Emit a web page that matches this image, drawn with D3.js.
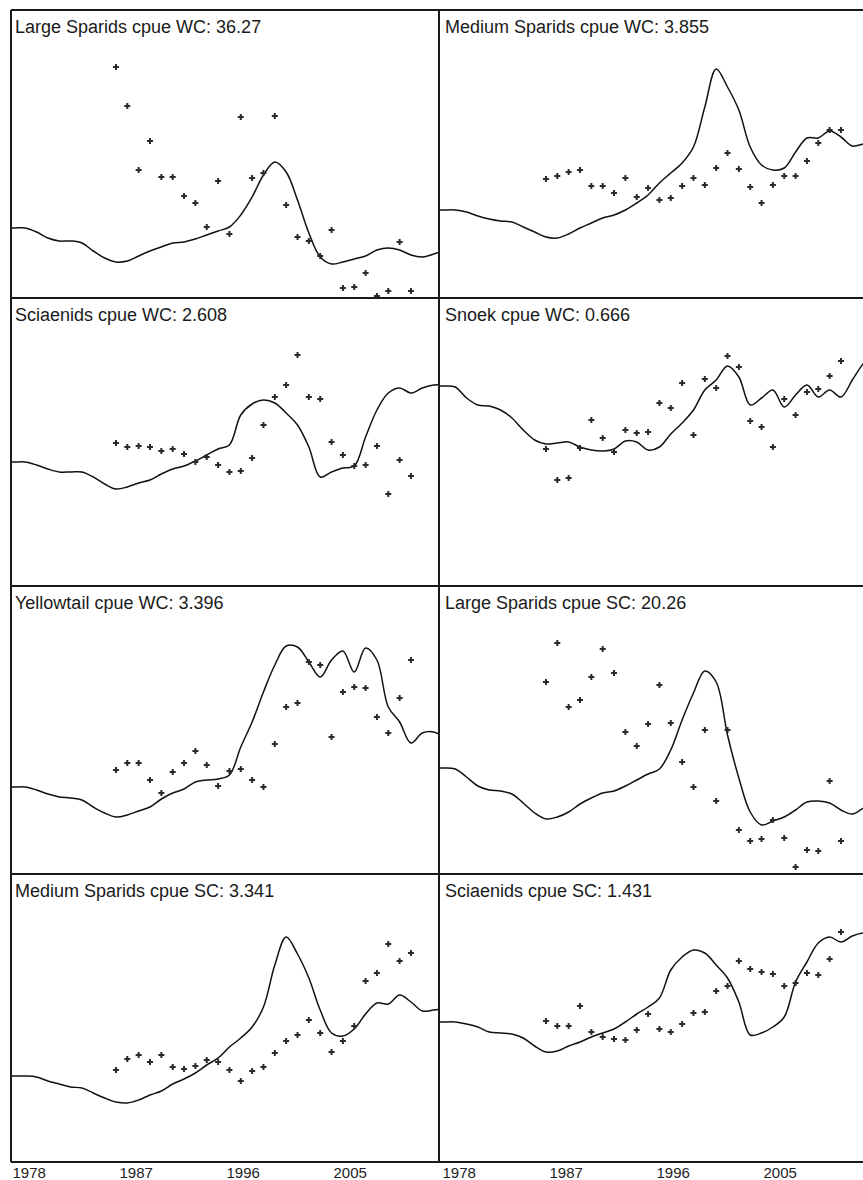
<!DOCTYPE html>
<html>
<head>
<meta charset="utf-8">
<script src="https://cdn.jsdelivr.net/npm/d3@7"></script>
<style>
  body { margin: 0; background: #fff; }
  svg { display: block; }
</style>
</head>
<body>
<div id="chart"></div>
<script>
// years of the observed cpue points and of the fitted curve
const pointYears = d3.range(1987, 2014);
const fitYears = d3.range(1977, 2017);
const tickLabels = ["1978", "1987", "1996", "2005"];

const titles = [
    "Large Sparids cpue WC: 36.27",
    "Medium Sparids cpue WC: 3.855",
    "Sciaenids cpue WC: 2.608",
    "Snoek cpue WC: 0.666",
    "Yellowtail cpue WC: 3.396",
    "Large Sparids cpue SC: 20.26",
    "Medium Sparids cpue SC: 3.341",
    "Sciaenids cpue SC: 1.431"
];

// relative cpue (observed) and model fit, one pair per panel
const largeSparidsWC = [2.30, 1.91, 1.27, 1.56, 1.20, 1.20, 1.01, 0.94, 0.70, 1.16, 0.63, 1.80, 1.19, 1.24,
    1.81, 0.92, 0.60, 0.56, 0.41, 0.67, 0.09, 0.10, 0.24, 0.01, 0.06, 0.55, 0.06];
const largeSparidsWCFit = [0.69, 0.69, 0.69, 0.65, 0.59, 0.56, 0.56, 0.54, 0.46, 0.39, 0.35, 0.36, 0.41, 0.46,
    0.50, 0.54, 0.55, 0.58, 0.62, 0.66, 0.70, 0.82, 1.00, 1.22, 1.35, 1.25, 0.97, 0.64, 0.40, 0.33,
    0.35, 0.38, 0.41, 0.47, 0.49, 0.47, 0.42, 0.40, 0.43, 0.47];

const mediumSparidsWC = [1.18, 1.21, 1.25, 1.27, 1.11, 1.11, 1.04, 1.19, 1.00, 1.09, 0.97, 0.99, 1.11, 1.19,
    1.12, 1.29, 1.44, 1.28, 1.10, 0.94, 1.12, 1.21, 1.21, 1.36, 1.54, 1.67, 1.67];
const mediumSparidsWCFit = [0.87, 0.87, 0.87, 0.85, 0.81, 0.78, 0.76, 0.75, 0.70, 0.65, 0.60, 0.59, 0.63, 0.69,
    0.74, 0.79, 0.82, 0.87, 0.94, 1.02, 1.14, 1.24, 1.34, 1.50, 1.90, 2.28, 2.10, 1.87, 1.50, 1.32,
    1.27, 1.29, 1.45, 1.59, 1.59, 1.66, 1.60, 1.51, 1.53, 1.54];

const sciaenidsWC = [1.42, 1.38, 1.39, 1.38, 1.34, 1.36, 1.31, 1.23, 1.28, 1.20, 1.13, 1.14, 1.27, 1.60,
    1.88, 2.00, 2.30, 1.88, 1.86, 1.43, 1.30, 1.19, 1.20, 1.39, 0.91, 1.25, 1.09];
const sciaenidsWCFit = [1.23, 1.23, 1.23, 1.20, 1.16, 1.13, 1.13, 1.13, 1.08, 1.01, 0.96, 0.98, 1.02, 1.05,
    1.11, 1.16, 1.19, 1.24, 1.30, 1.36, 1.40, 1.70, 1.81, 1.85, 1.82, 1.72, 1.60, 1.38, 1.08, 1.13,
    1.17, 1.19, 1.48, 1.75, 1.92, 1.97, 1.92, 1.97, 2.00, 2.00];

const snoekWC = [1.36, 1.05, 1.07, 1.37, 1.65, 1.47, 1.33, 1.55, 1.52, 1.53, 1.82, 1.77, 2.02, 1.50,
    2.06, 1.97, 2.29, 2.18, 1.64, 1.58, 1.38, 1.86, 1.70, 1.93, 1.96, 2.09, 2.24];
const snoekWCFit = [1.99, 1.99, 1.98, 1.87, 1.80, 1.79, 1.75, 1.67, 1.55, 1.45, 1.41, 1.42, 1.43, 1.38,
    1.35, 1.34, 1.36, 1.44, 1.43, 1.35, 1.38, 1.51, 1.62, 1.75, 1.95, 2.05, 2.19, 2.08, 1.80, 1.87,
    1.95, 1.78, 1.90, 2.00, 1.88, 1.95, 1.88, 2.05, 2.22, 2.33];

const yellowtailWC = [1.03, 1.10, 1.10, 0.93, 0.80, 1.01, 1.10, 1.22, 1.08, 0.87, 1.02, 1.04, 0.93, 0.86,
    1.29, 1.66, 1.70, 2.11, 2.08, 1.36, 1.81, 1.86, 1.85, 1.56, 1.40, 1.75, 2.13];
const yellowtailWCFit = [0.86, 0.86, 0.86, 0.83, 0.79, 0.76, 0.75, 0.73, 0.66, 0.60, 0.56, 0.58, 0.62, 0.66,
    0.74, 0.80, 0.84, 0.91, 0.93, 0.94, 0.98, 1.26, 1.51, 1.81, 2.08, 2.27, 2.26, 2.11, 1.96, 2.13,
    2.22, 2.01, 2.25, 2.13, 1.66, 1.51, 1.30, 1.40, 1.41, 1.35];

const largeSparidsSC = [1.91, 2.30, 1.66, 1.73, 1.96, 2.24, 2.00, 1.41, 1.27, 1.49, 1.88, 1.50, 1.11, 0.86,
    1.43, 0.72, 1.43, 0.43, 0.32, 0.34, 0.53, 0.35, 0.06, 0.23, 0.22, 0.92, 0.32];
const largeSparidsSCFit = [1.05, 1.05, 1.04, 0.96, 0.87, 0.83, 0.82, 0.79, 0.70, 0.60, 0.54, 0.56, 0.61, 0.69,
    0.75, 0.80, 0.82, 0.87, 0.93, 0.99, 1.04, 1.23, 1.53, 1.80, 2.02, 1.91, 1.38, 0.95, 0.61, 0.48,
    0.52, 0.56, 0.63, 0.71, 0.72, 0.70, 0.63, 0.59, 0.65, 0.70];

const mediumSparidsSC = [0.91, 1.02, 1.06, 0.99, 1.06, 0.94, 0.92, 0.95, 1.01, 0.99, 0.91, 0.80, 0.90, 0.94,
    1.08, 1.20, 1.26, 1.41, 1.28, 1.09, 1.20, 1.35, 1.80, 1.88, 2.17, 2.00, 2.08];
const mediumSparidsSCFit = [0.85, 0.85, 0.85, 0.84, 0.80, 0.77, 0.74, 0.73, 0.68, 0.63, 0.59, 0.58, 0.61, 0.66,
    0.70, 0.77, 0.82, 0.88, 0.96, 1.03, 1.14, 1.23, 1.34, 1.54, 1.96, 2.24, 2.07, 1.83, 1.51, 1.28,
    1.25, 1.32, 1.47, 1.58, 1.57, 1.66, 1.59, 1.50, 1.51, 1.52];

const sciaenidsSC = [1.40, 1.35, 1.35, 1.55, 1.29, 1.24, 1.22, 1.21, 1.31, 1.47, 1.32, 1.29, 1.37, 1.48,
    1.49, 1.70, 1.75, 2.00, 1.92, 1.89, 1.87, 1.75, 1.78, 1.88, 1.86, 2.02, 2.29];
const sciaenidsSCFit = [1.39, 1.39, 1.39, 1.37, 1.34, 1.29, 1.28, 1.27, 1.23, 1.15, 1.09, 1.10, 1.15, 1.19,
    1.24, 1.28, 1.32, 1.39, 1.47, 1.54, 1.63, 1.91, 2.04, 2.11, 2.08, 1.96, 1.83, 1.59, 1.26, 1.28,
    1.34, 1.44, 1.79, 1.99, 2.18, 2.24, 2.19, 2.25, 2.28, 2.28];

const panels = [
    { title: titles[0], obs: largeSparidsWC, fit: largeSparidsWCFit },
    { title: titles[1], obs: mediumSparidsWC, fit: mediumSparidsWCFit },
    { title: titles[2], obs: sciaenidsWC, fit: sciaenidsWCFit },
    { title: titles[3], obs: snoekWC, fit: snoekWCFit },
    { title: titles[4], obs: yellowtailWC, fit: yellowtailWCFit },
    { title: titles[5], obs: largeSparidsSC, fit: largeSparidsSCFit },
    { title: titles[6], obs: mediumSparidsSC, fit: mediumSparidsSCFit },
    { title: titles[7], obs: sciaenidsSC, fit: sciaenidsSCFit }
];

const width = 863, height = 1180;
const panelW = 428, panelH = 288, topY = 10;
const frameX = [11, 439];     // panel borders
const dataX = [11, 441];      // where each column's time axis starts

const svg = d3.select("#chart")
    .append("svg")
    .attr("width", width)
    .attr("height", height)
    .style("font-family", "'Liberation Sans', Arial, sans-serif");

const cross = d3.symbol().type(d3.symbolCross).size(20);

panels.forEach((p, i) => {
    const col = i % 2, row = Math.floor(i / 2);
    const y0 = topY + row * panelH;

    const x = d3.scaleLinear()
        .domain([1977.75, 2015.47])
        .range([dataX[col], dataX[col] + panelW]);
    const y = d3.scaleLinear()
        .domain([0, 2.88])
        .range([y0 + panelH - 1, y0 - 1]);

    svg.append("clipPath")
        .attr("id", "clip" + i)
        .append("rect")
        .attr("x", frameX[col])
        .attr("y", y0)
        .attr("width", panelW)
        .attr("height", panelH);

    const g = svg.append("g").attr("clip-path", `url(#clip${i})`);

    const line = d3.line()
        .x(d => x(d[0]))
        .y(d => y(d[1]))
        .curve(d3.curveCatmullRom.alpha(0.5));

    g.append("path")
        .datum(fitYears.map((yr, j) => [yr, p.fit[j]]))
        .attr("d", line)
        .attr("fill", "none")
        .attr("stroke", "#111")
        .attr("stroke-width", 1.5);

    g.selectAll("path.pt")
        .data(pointYears.map((yr, j) => [yr, p.obs[j]]))
        .enter()
        .append("path")
            .attr("class", "pt")
            .attr("d", cross)
            .attr("transform", d => `translate(${x(d[0])},${y(d[1])})`)
            .attr("fill", "#2a2a2a");

    svg.append("text")
        .attr("x", dataX[col] + 4)
        .attr("y", y0 + 22.5)
        .attr("font-size", "18px")
        .attr("fill", "#1a1a1a")
        .text(p.title);
});

// frame: row lines and column lines
const rowLines = d3.range(5).map(r => topY + r * panelH);
svg.selectAll("line.h")
    .data(rowLines)
    .enter()
    .append("line")
        .attr("x1", frameX[0])
        .attr("x2", width + 10)
        .attr("y1", d => d)
        .attr("y2", d => d)
        .attr("stroke", "#1a1a1a")
        .attr("stroke-width", 2);

svg.selectAll("line.v")
    .data(frameX)
    .enter()
    .append("line")
        .attr("x1", d => d)
        .attr("x2", d => d)
        .attr("y1", topY)
        .attr("y2", topY + 4 * panelH)
        .attr("stroke", "#1a1a1a")
        .attr("stroke-width", 2);

// year labels under each column
dataX.forEach(x0 => {
    const band = d3.scaleBand()
        .domain(tickLabels)
        .range([x0, x0 + panelW]);

    svg.selectAll(null)
        .data(tickLabels)
        .enter()
        .append("text")
            .attr("x", d => band(d) + 1.5)
            .attr("y", 1178)
            .attr("font-size", "15px")
            .attr("fill", "#222")
            .text(d => d);
});
</script>
</body>
</html>
